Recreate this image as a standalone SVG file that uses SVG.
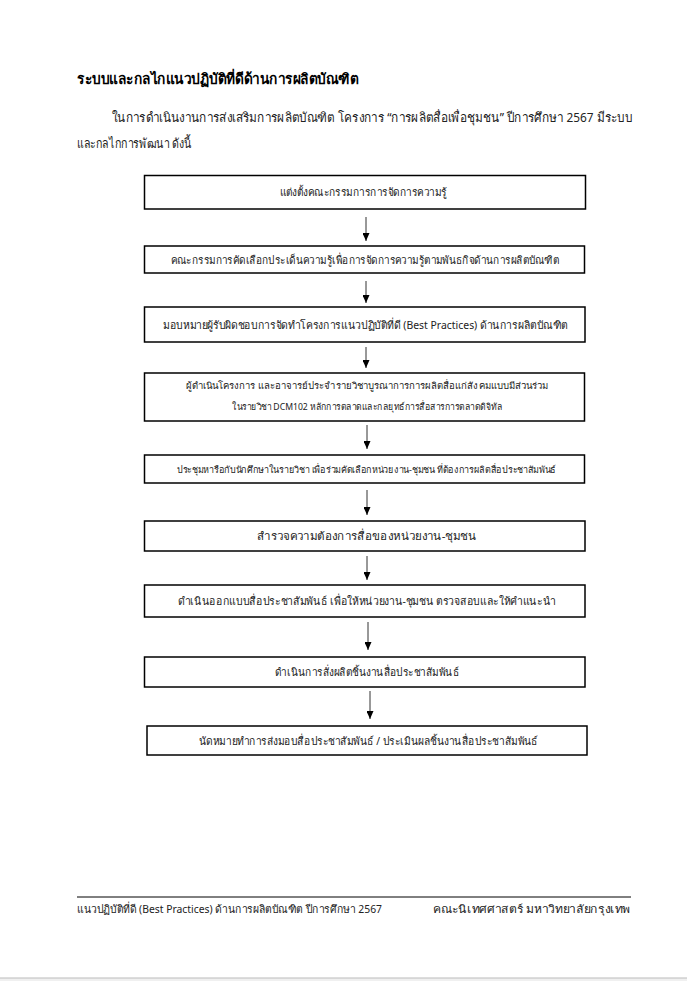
<svg xmlns="http://www.w3.org/2000/svg" width="687" height="981" viewBox="0 0 687 981">
<style>
text{font-family:"Noto Sans","DejaVu Sans",sans-serif;fill:#222}
.box{fill:#fff;stroke:#000;stroke-width:1.5}
.bt{font-size:11px;text-anchor:middle}
.sm{font-size:9.5px;text-anchor:middle}
.con{stroke:#333;stroke-width:1;fill:none}
.hd{font-size:14.5px;font-weight:bold;fill:#000}
.p{font-size:13px}
.ft{font-size:11px}
</style>
<defs>
<marker id="ah" markerWidth="8" markerHeight="7" refX="8" refY="3.5" orient="auto" markerUnits="userSpaceOnUse" viewBox="0 0 8 7">
<path d="M0,0 L8,3.5 L0,7 Z" fill="#000"/>
</marker>
</defs>
<rect width="687" height="981" fill="#fff"/>
<rect x="0" y="978" width="687" height="3" fill="#f0f0f0"/>
<line x1="0" y1="978" x2="687" y2="978" stroke="#bbb" stroke-width="1"/>

<text class="hd" x="77" y="84" textLength="281" lengthAdjust="spacingAndGlyphs">ระบบและกลไกแนวปฏิบัติที่ดีด้านการผลิตบัณฑิต</text>
<text class="p" x="112" y="122" textLength="520" lengthAdjust="spacingAndGlyphs">ในการดำเนินงานการส่งเสริมการผลิตบัณฑิต โครงการ “การผลิตสื่อเพื่อชุมชน” ปีการศึกษา 2567 มีระบบ</text>
<text class="p" x="77" y="148" textLength="114" lengthAdjust="spacingAndGlyphs">และกลไกการพัฒนา ดังนี้</text>

<g id="connectors">
<line class="con" x1="366" y1="217" x2="366" y2="241" marker-end="url(#ah)"/>
<line class="con" x1="366" y1="281" x2="366" y2="303" marker-end="url(#ah)"/>
<line class="con" x1="366" y1="347" x2="366" y2="368" marker-end="url(#ah)"/>
<line class="con" x1="367" y1="425" x2="367" y2="449" marker-end="url(#ah)"/>
<line class="con" x1="367" y1="490" x2="367" y2="515" marker-end="url(#ah)"/>
<line class="con" x1="367" y1="556" x2="367" y2="580" marker-end="url(#ah)"/>
<line class="con" x1="368" y1="622" x2="368" y2="650" marker-end="url(#ah)"/>
<line class="con" x1="370" y1="691" x2="370" y2="719" marker-end="url(#ah)"/>
</g>

<g id="n1"><rect class="box" x="144.5" y="175.5" width="441" height="33.5"/>
<text class="bt" x="363" y="196" textLength="167" lengthAdjust="spacingAndGlyphs">แต่งตั้งคณะกรรมการการจัดการความรู้</text></g>

<g id="n2"><rect class="box" x="144.5" y="246" width="440" height="27"/>
<text class="bt" x="365" y="264" textLength="388" lengthAdjust="spacingAndGlyphs">คณะกรรมการคัดเลือกประเด็นความรู้เพื่อการจัดการความรู้ตามพันธกิจด้านการผลิตบัณฑิต</text></g>

<g id="n3"><rect class="box" x="144.5" y="307" width="440.5" height="35"/>
<text class="bt" x="365.5" y="329" textLength="405" lengthAdjust="spacingAndGlyphs">มอบหมายผู้รับผิดชอบการจัดทำโครงการแนวปฏิบัติที่ดี (Best Practices) ด้านการผลิตบัณฑิต</text></g>

<g id="n4"><rect class="box" x="144.5" y="373" width="440" height="48"/>
<text class="sm" x="367" y="389" textLength="362" lengthAdjust="spacingAndGlyphs">ผู้ดำเนินโครงการ และอาจารย์ประจำรายวิชาบูรณาการการผลิตสื่อแก่สังคมแบบมีส่วนร่วม</text>
<text class="sm" x="367" y="410" textLength="270" lengthAdjust="spacingAndGlyphs">ในรายวิชา DCM102 หลักการตลาดและกลยุทธ์การสื่อสารการตลาดดิจิทัล</text></g>

<g id="n5"><rect class="box" x="144.5" y="455" width="440" height="28"/>
<text class="sm" x="366.5" y="473" textLength="379" lengthAdjust="spacingAndGlyphs">ประชุมหารือกับนักศึกษาในรายวิชา เพื่อร่วมคัดเลือกหน่วยงาน-ชุมชน ที่ต้องการผลิตสื่อประชาสัมพันธ์</text></g>

<g id="n6"><rect class="box" x="144.5" y="521" width="440.5" height="30"/>
<text class="bt" x="366.5" y="540" textLength="219" lengthAdjust="spacingAndGlyphs">สำรวจความต้องการสื่อของหน่วยงาน-ชุมชน</text></g>

<g id="n7"><rect class="box" x="144.5" y="585" width="440.5" height="32"/>
<text class="bt" x="367" y="605" textLength="378" lengthAdjust="spacingAndGlyphs">ดำเนินออกแบบสื่อประชาสัมพันธ์ เพื่อให้หน่วยงาน-ชุมชน ตรวจสอบและให้คำแนะนำ</text></g>

<g id="n8"><rect class="box" x="144.5" y="657" width="440.5" height="30"/>
<text class="bt" x="367" y="676" textLength="184" lengthAdjust="spacingAndGlyphs">ดำเนินการสั่งผลิตชิ้นงานสื่อประชาสัมพันธ์</text></g>

<g id="n9"><rect class="box" x="147" y="726" width="440" height="29"/>
<text class="bt" x="368.5" y="745" textLength="339" lengthAdjust="spacingAndGlyphs">นัดหมายทำการส่งมอบสื่อประชาสัมพันธ์ / ประเมินผลชิ้นงานสื่อประชาสัมพันธ์</text></g>

<line x1="77" y1="897" x2="631" y2="897" stroke="#000" stroke-width="1"/>
<text class="ft" x="77" y="913" textLength="305" lengthAdjust="spacingAndGlyphs">แนวปฏิบัติที่ดี (Best Practices) ด้านการผลิตบัณฑิต ปีการศึกษา 2567</text>
<text class="ft" x="433" y="913" textLength="197" lengthAdjust="spacingAndGlyphs">คณะนิเทศศาสตร์ มหาวิทยาลัยกรุงเทพ</text>
</svg>
